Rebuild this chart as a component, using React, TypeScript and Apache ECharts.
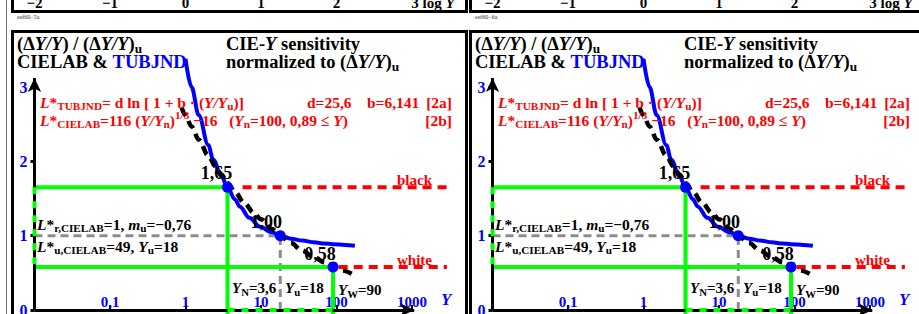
import React, { useEffect, useRef } from 'react';
import * as echarts from 'echarts';

const FONT = 'Liberation Serif';
const BLUE = '#0000ff';
const RED = '#ff0000';
const GREEN = '#00ff00';
const GRAY = '#8c8c8c';

// CIE Y values and normalized sensitivity (ΔY/Y)/(ΔY/Y)u
const tubjndY = [1, 1.2, 1.5, 2, 2.33, 3, 3.6, 4.5, 5.27, 7, 9.7, 14, 18, 25, 35, 50, 70, 90, 130, 175];
const tubjndR = [3.38, 3.0, 2.62, 2.22, 2.02, 1.8, 1.65, 1.49, 1.39, 1.24, 1.12, 1.045, 1.0, 0.96, 0.935, 0.91, 0.895, 0.885, 0.875, 0.865];
const cielabY = [0.89, 1, 1.2, 1.5, 2, 2.5, 3, 3.6, 4.5, 6, 8, 10, 14, 18, 25, 35, 50, 70, 90, 120, 170];
const cielabR = [2.72, 2.62, 2.47, 2.29, 2.08, 1.93, 1.82, 1.71, 1.59, 1.44, 1.31, 1.22, 1.09, 1.0, 0.9, 0.8, 0.71, 0.64, 0.58, 0.53, 0.47];

// key points: Y_N, Y_u, Y_W
const keyY = [3.6, 18, 90];
const keyR = [1.65, 1.0, 0.58];
const keyLabels = ['1,65', '1,00', '0,58'];

// red reference lines (black / white)
const refLevels = [1.65, 0.58];
const refStartY = [5.7, 107];
const refEndY = 2900;

// tick labels
const xTickLogs = [-1, 0, 1, 2, 3];
const xTickLabels = ['0,1', '1', '10', '100', '1000'];
const yTicks = [0, 1, 2, 3];
const yTickLabels = ['0', '1', '2', '3'];
const topTickLogs = [-2, -1, 0, 1, 2, 3];
const topTickLabels = ['−2', '−1', '0', '1', '2', '3'];
const panelCodes = ['eef60−5a', 'eef60−6a'];

const X_MIN = -2;
const X_MAX = 3.6;
const Y_MIN = 0;
const Y_MAX = 3.6;
const Y_AXIS_TOP = 3.12;
const X_AXIS_END = 3.03;
const BELOW = -0.12;

const PANEL_DX = 458;
const GRID_LEFT = 34.5;
const GRID_W = 422.8;
const GRID_TOP = 42.4;
const GRID_H = 267.6;

const lg = Math.log10;
const labelOffsets = [[-11, -14], [-14, -14], [-13, -13]];

function richSet(size: number, color: string, weight = 'bold') {
  const sub = Math.round(size * 0.72 * 10) / 10;
  const base = { fontFamily: FONT, fontWeight: weight, fontSize: size, fill: color, lineHeight: size + 2 };
  const subBase = { fontFamily: FONT, fontWeight: weight, fontSize: sub, fill: color, lineHeight: sub };
  return {
    n: base,
    i: { ...base, fontStyle: 'italic' },
    b: { ...base, fill: BLUE },
    s: { ...subBase, padding: [size * 0.5, 0, 0, 0] },
    p: { ...subBase, padding: [0, 0, size * 0.65, 0] },
  };
}

function txt(x: number, y: number, text: string, size: number, color: string, align = 'left', weight = 'bold') {
  return {
    type: 'text',
    x,
    y,
    z: 100,
    silent: true,
    style: {
      text,
      rich: richSet(size, color, weight),
      align,
      verticalAlign: 'middle',
      fontFamily: FONT,
      fontSize: size,
      fontWeight: weight,
      fill: color,
    },
  };
}

const S = '\u00a0';

function panelGraphics(p: number) {
  const dx = p * PANEL_DX;
  return [
    { type: 'rect', z: 50, silent: true, shape: { x: 12.5 + dx, y: -10, width: 454, height: 21.5 }, style: { fill: 'none', stroke: '#000', lineWidth: 3 } },
    { type: 'rect', z: 50, silent: true, shape: { x: 12.5 + dx, y: 31.5, width: 454, height: 300 }, style: { fill: 'none', stroke: '#000', lineWidth: 3 } },
    txt(17 + dx, 17, panelCodes[p], 6, '#333', 'left', 'normal'),
    txt(17 + dx, 44, '{n|(Δ}{i|Y/Y}{n|) / (Δ}{i|Y/Y}{n|)}{s|u}', 18.5, '#000'),
    txt(17 + dx, 61.5, '{n|CIELAB & }{b|TUBJND}', 18.5, '#000'),
    txt(226 + dx, 44, '{n|CIE-}{i|Y}{n| sensitivity}', 18.5, '#000'),
    txt(226 + dx, 61.5, '{n|normalized to (Δ}{i|Y/Y}{n|)}{s|u}', 18.5, '#000'),
    txt(40 + dx, 102.5, '{i|L}{n|*}{s|TUBJND}{n|= d ln [ 1 + b · (}{i|Y/Y}{s|u}{n|)]}', 15.5, RED),
    txt(307 + dx, 102.5, '{n|d=25,6}', 15.5, RED),
    txt(367 + dx, 102.5, '{n|b=6,141}', 15.5, RED),
    txt(452 + dx, 102.5, '{n|[2a]}', 15.5, RED, 'right'),
    txt(40 + dx, 120.5, `{i|L}{n|*}{s|CIELAB}{n|=116 (}{i|Y/Y}{s|n}{n|)}{p|1/3}{n|${S}−16${S}${S}${S}(}{i|Y}{s|n}{n|=100, 0,89 ≤ }{i|Y}{n|)}`, 15.5, RED),
    txt(452 + dx, 120.5, '{n|[2b]}', 15.5, RED, 'right'),
    txt(37 + dx, 224, '{i|L}{n|*}{s|r,CIELAB}{n|=1, }{i|m}{s|u}{n|=−0,76}', 15.5, '#000'),
    txt(37 + dx, 246, '{i|L}{n|*}{s|u,CIELAB}{n|=49, }{i|Y}{s|u}{n|=18}', 15.5, '#000'),
    txt(232 + dx, 288, '{i|Y}{s|N}{n|=3,6}', 15, '#000'),
    txt(285 + dx, 288, '{i|Y}{s|u}{n|=18}', 15, '#000'),
    txt(338 + dx, 290, '{i|Y}{s|W}{n|=90}', 15, '#000'),
    txt(397 + dx, 180, '{n|black}', 15, RED),
    txt(397 + dx, 260, '{n|white}', 15, RED),
    txt(441 + dx, 299, '{i|Y}', 17, BLUE),
  ];
}

function panelSeries(p: number) {
  const ax = { xAxisIndex: p, yAxisIndex: p };
  const plain = (data: number[][], color: string, width: number, type: any, z: number) => ({
    type: 'line',
    ...ax,
    data,
    symbol: 'none',
    clip: false,
    silent: true,
    lineStyle: { color, width, type, cap: 'butt' },
    z,
  });
  return [
    plain([[X_MIN, keyR[1]], [lg(keyY[1]), keyR[1]], [lg(keyY[1]), BELOW]], GRAY, 3, [8, 5], 2),
    plain([[X_MIN, keyR[0]], [lg(keyY[0]), keyR[0]], [lg(keyY[0]), BELOW]], GREEN, 4, 'solid', 3),
    plain([[X_MIN, keyR[2]], [lg(keyY[2]), keyR[2]], [lg(keyY[2]), BELOW]], GREEN, 4, 'solid', 3),
    ...refLevels.map((lv, i) => plain([[lg(refStartY[i]), lv], [lg(refEndY), lv]], RED, 4, [9, 6], 3)),
    {
      type: 'line',
      ...ax,
      data: [[X_MIN, 0]],
      symbol: 'none',
      silent: true,
      lineStyle: { width: 0 },
      z: 4,
      markLine: {
        silent: true,
        symbol: ['none', 'arrow'],
        symbolSize: [10, 14],
        label: { show: false },
        lineStyle: { color: '#000', width: 3, type: 'solid' },
        emphasis: { disabled: true },
        data: [
          [{ coord: [X_MIN, 0] }, { coord: [X_MIN, Y_AXIS_TOP] }],
          [{ coord: [X_MIN, 0] }, { coord: [X_AXIS_END, 0] }],
        ],
      },
    },
    plain([[X_MIN, keyR[0]], [X_MIN, keyR[2]]], GREEN, 4, [7, 7], 5),
    plain([[lg(keyY[0]), 0], [lg(keyY[2]), 0]], GREEN, 4, [7, 7], 5),
    {
      type: 'line',
      ...ax,
      data: tubjndY.map((y, i) => [lg(y), tubjndR[i]]),
      smooth: 0.35,
      smoothMonotone: 'x',
      symbol: 'none',
      silent: true,
      lineStyle: { color: BLUE, width: 4 },
      z: 6,
    },
    {
      type: 'line',
      ...ax,
      data: cielabY.map((y, i) => [lg(y), cielabR[i]]),
      smooth: 0.35,
      smoothMonotone: 'x',
      symbol: 'none',
      silent: true,
      lineStyle: { color: '#000', width: 4.5, type: [9, 6] },
      z: 7,
    },
    {
      type: 'scatter',
      ...ax,
      symbolSize: 11,
      silent: true,
      itemStyle: { color: BLUE, opacity: 1 },
      z: 20,
      label: {
        show: true,
        color: '#000',
        fontFamily: FONT,
        fontWeight: 'bold',
        fontSize: 18,
        textBorderWidth: 0,
        textBorderColor: 'transparent',
      },
      data: keyY.map((y, i) => ({
        value: [lg(y), keyR[i]],
        label: {
          show: true,
          formatter: keyLabels[i],
          position: 'inside',
          offset: labelOffsets[i],
          color: '#000',
          textBorderWidth: 0,
          textBorderColor: 'transparent',
        },
      })),
    },
  ];
}

const mainX = (p: number) => ({
  type: 'value',
  gridIndex: p,
  min: X_MIN,
  max: X_MAX,
  position: 'bottom',
  axisLine: { show: false, onZero: false },
  splitLine: { show: false },
  axisTick: { show: true, inside: true, length: 5, customValues: xTickLogs, lineStyle: { color: '#000', width: 2 } },
  axisLabel: {
    show: true,
    inside: true,
    margin: 1,
    customValues: xTickLogs,
    formatter: (v: number) => xTickLabels[xTickLogs.indexOf(v)] ?? '',
    color: BLUE,
    fontFamily: FONT,
    fontWeight: 'bold',
    fontSize: 15,
  },
});

const mainY = (p: number) => ({
  type: 'value',
  gridIndex: p,
  min: Y_MIN,
  max: Y_MAX,
  position: 'left',
  axisLine: { show: false, onZero: false },
  splitLine: { show: false },
  axisTick: { show: true, length: 4, customValues: yTicks, lineStyle: { color: '#000', width: 3 } },
  axisLabel: {
    show: true,
    margin: 7,
    customValues: yTicks,
    formatter: (v: number) => yTickLabels[yTicks.indexOf(v)] ?? '',
    color: BLUE,
    fontFamily: FONT,
    fontWeight: 'bold',
    fontSize: 16,
  },
});

const topRich = {
  n: { fontFamily: FONT, fontWeight: 'bold', fontSize: 15, color: '#000' },
  a: { fontFamily: FONT, fontWeight: 'bold', fontSize: 15, color: '#000', padding: [0, 0, 0, 42] },
  b: { fontFamily: FONT, fontWeight: 'bold', fontStyle: 'italic', fontSize: 15, color: '#000' },
};

const topX = (p: number) => ({
  type: 'value',
  gridIndex: 2 + p,
  min: X_MIN,
  max: X_MAX,
  position: 'bottom',
  axisLine: { show: false, onZero: false },
  axisTick: { show: false },
  splitLine: { show: false },
  axisLabel: {
    show: true,
    inside: true,
    margin: 1,
    customValues: topTickLogs,
    formatter: (v: number) => {
      const i = topTickLogs.indexOf(v);
      if (i < 0) return '';
      return i === topTickLogs.length - 1 ? `{a|${topTickLabels[i]} log }{b|Y}` : `{n|${topTickLabels[i]}}`;
    },
    rich: topRich,
    color: '#000',
    fontFamily: FONT,
    fontWeight: 'bold',
    fontSize: 15,
  },
});

const topY = (p: number) => ({ type: 'value', gridIndex: 2 + p, show: false, min: 0, max: 1 });

const option: any = {
  animation: false,
  backgroundColor: '#fff',
  textStyle: { fontFamily: FONT },
  grid: [
    ...[0, 1].map((p) => ({ left: GRID_LEFT + p * PANEL_DX, top: GRID_TOP, width: GRID_W, height: GRID_H, outerBoundsMode: 'none', containLabel: false })),
    ...[0, 1].map((p) => ({ left: GRID_LEFT + p * PANEL_DX, top: -20, width: GRID_W, height: 31.5, outerBoundsMode: 'none', containLabel: false })),
  ],
  xAxis: [mainX(0), mainX(1), topX(0), topX(1)],
  yAxis: [mainY(0), mainY(1), topY(0), topY(1)],
  series: [...panelSeries(0), ...panelSeries(1)],
  graphic: {
    elements: [
      { type: 'line', z: 50, silent: true, shape: { x1: 6.5, y1: 0, x2: 6.5, y2: 314 }, style: { stroke: '#777', lineWidth: 1 } },
      ...panelGraphics(0),
      ...panelGraphics(1),
    ],
  },
};

export default function App() {
  const ref = useRef<HTMLDivElement>(null);
  useEffect(() => {
    const chart = echarts.init(ref.current as HTMLDivElement, undefined, { renderer: 'svg' });
    chart.setOption(option);
    return () => chart.dispose();
  }, []);
  return (
    <div
      ref={ref}
      style={{ position: 'absolute', left: 0, top: 0, width: 919, height: 314, background: '#fff' }}
    />
  );
}
